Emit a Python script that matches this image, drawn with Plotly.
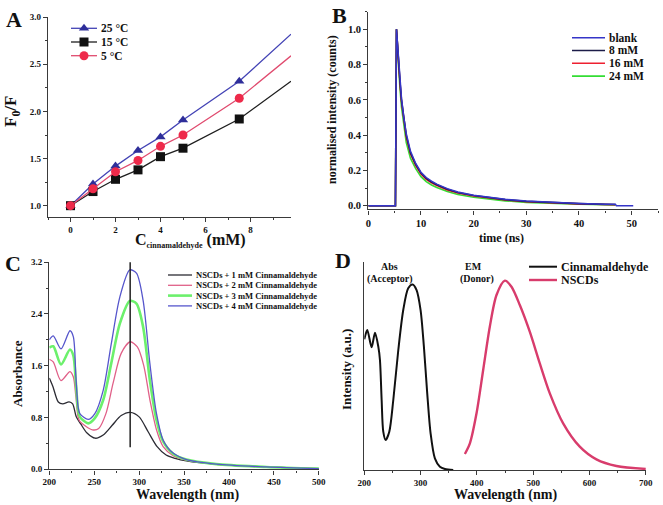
import plotly.graph_objects as go

W, H = 663, 505
SERIF = "Liberation Serif, Times New Roman, serif"

# ---------------- Panel A data ----------------
conc_mM = [0, 1, 2, 3, 4, 5, 7.5]
conc_line = [0, 1, 2, 3, 4, 5, 7.5, 9.8]
f0f_25C = [1.00, 1.23, 1.42, 1.585, 1.73, 1.91, 2.32]
f0f_15C = [1.00, 1.15, 1.28, 1.38, 1.52, 1.61, 1.92]
f0f_5C = [1.00, 1.18, 1.36, 1.48, 1.63, 1.75, 2.14]
f0f_25C_end = 2.82
f0f_15C_end = 2.32
f0f_5C_end = 2.59
temp_labels = ["25 °C", "15 °C", "5 °C"]

# ---------------- Panel B data ----------------
t_ns = [0, 5.15, 5.35, 5.6, 5.8, 6.0, 6.3, 6.7, 7.2, 8.0, 9.0, 10.0, 11.0, 12.0, 13.0,
        15.0, 17.0, 20.0, 23.0, 26.0, 30.0, 35.0, 40.0, 45.0, 46.9]
decay_blank = [0, 0, 1.0, 0.88, 0.80, 0.72, 0.61, 0.51, 0.41, 0.31, 0.24, 0.19, 0.16, 0.14, 0.123,
               0.097, 0.078, 0.060, 0.047, 0.037, 0.027, 0.019, 0.013, 0.009, 0.008]
decay_8mM = [0, 0, 1.0, 0.87, 0.79, 0.71, 0.60, 0.50, 0.40, 0.30, 0.235, 0.185, 0.155, 0.135, 0.119,
             0.094, 0.075, 0.058, 0.045, 0.035, 0.025, 0.017, 0.012, 0.008, 0.007]
decay_16mM = [0, 0, 1.0, 0.86, 0.78, 0.70, 0.59, 0.49, 0.39, 0.295, 0.228, 0.18, 0.15, 0.13, 0.115,
              0.090, 0.072, 0.055, 0.043, 0.033, 0.023, 0.016, 0.011, 0.007, 0.006]
decay_24mM = [0, 0, 1.0, 0.84, 0.75, 0.67, 0.56, 0.46, 0.36, 0.27, 0.21, 0.165, 0.137, 0.118, 0.104,
              0.081, 0.064, 0.048, 0.037, 0.028, 0.019, 0.013, 0.009, 0.006, 0.005]
t_blank_tail = [47.1, 50.3]
decay_blank_tail = [0.0, 0.0]
decay_labels = ["blank", "8 mM", "16 mM", "24 mM"]

# ---------------- Panel C data ----------------
wl_4mM = [200, 204.4, 213, 223, 226.7, 229.6, 232, 234, 243.3, 250.7, 260, 269, 278.5, 289.6, 297,
          304.4, 311.9, 319.3, 326.7, 337.8, 352.6, 386, 441.5, 500]
abs_4mM = [2.00, 2.06, 1.86, 2.14, 2.05, 1.43, 0.97, 0.86, 0.77, 0.86, 1.22, 1.94, 2.66, 3.08, 3.03,
           2.61, 1.64, 0.86, 0.45, 0.25, 0.15, 0.08, 0.036, 0.01]
wl_3mM = [200, 204.4, 213, 223, 226.7, 229.6, 232, 234, 243.3, 250.7, 260, 269, 278.5, 289.6, 297,
          304.4, 311.9, 319.3, 326.7, 337.8, 352.6, 386, 441.5, 500]
abs_3mM = [1.88, 1.90, 1.62, 1.85, 1.76, 1.33, 0.92, 0.81, 0.71, 0.79, 1.07, 1.64, 2.25, 2.60, 2.56,
           2.20, 1.38, 0.76, 0.43, 0.24, 0.15, 0.08, 0.036, 0.01]
wl_2mM = [200, 204.4, 213, 223, 226.7, 229.6, 232, 234, 248, 255, 263, 271, 280, 290, 298, 305, 312,
          319.3, 326.7, 337.8, 352.6, 386, 441.5, 500]
abs_2mM = [1.70, 1.66, 1.37, 1.51, 1.43, 1.12, 0.81, 0.74, 0.61, 0.63, 0.86, 1.33, 1.79, 1.97, 1.89,
           1.61, 1.07, 0.61, 0.35, 0.21, 0.14, 0.077, 0.036, 0.01]
wl_1mM = [200, 204, 210, 215, 222, 226, 230, 235, 242, 251, 260, 270, 280, 290, 300, 310, 320, 330,
          340, 352.6, 386, 441.5, 500]
abs_1mM = [1.41, 1.28, 1.04, 1.01, 1.04, 1.01, 0.81, 0.70, 0.56, 0.48, 0.53, 0.68, 0.83, 0.88, 0.81,
           0.58, 0.35, 0.22, 0.17, 0.13, 0.077, 0.036, 0.01]
peak_wl = [290, 290]
peak_marker = [0.34, 3.2]
uv_labels = ["NSCDs + 1 mM Cinnamaldehyde", "NSCDs + 2 mM Cinnamaldehyde",
             "NSCDs + 3 mM Cinnamaldehyde", "NSCDs + 4 mM Cinnamaldehyde"]

# ---------------- Panel D data ----------------
wl_abs = [200, 205.3, 213, 219, 224.9, 227.8, 230.8, 233.7, 237.9, 244.4, 251.5, 260.4, 269.2, 278,
          285.8, 292.9, 300, 305.9, 311.8, 317.8, 325.4, 334.3, 343.2, 358]
int_abs = [0.627, 0.672, 0.589, 0.659, 0.592, 0.528, 0.336, 0.184, 0.144, 0.184, 0.336, 0.576, 0.768,
           0.872, 0.891, 0.864, 0.768, 0.592, 0.368, 0.176, 0.056, 0.016, 0.005, 0.0]
wl_em = [378.7, 387.6, 399.4, 411.2, 423, 434.9, 449.7, 461.5, 476.3, 494, 511.8, 529.6, 553.3, 582.8,
         612.4, 648, 700]
int_em = [0.077, 0.128, 0.272, 0.48, 0.688, 0.84, 0.909, 0.88, 0.792, 0.664, 0.512, 0.368, 0.224,
          0.112, 0.051, 0.019, 0.005]
fret_labels = ["Cinnamaldehyde", "NSCDs"]

# ---------------- layout helpers ----------------
def px(x):
    return x / W

def py(y):
    return 1 - y / H

AX = "#3a3a3a"

def axis_style(domain, rng, dtick, minor_dtick, size=9, anchor=None, showticklabels=True,
               ticks="outside", fmt=None):
    d = dict(domain=domain, range=rng, showline=True, linecolor=AX, linewidth=1.4,
             ticks=ticks, ticklen=4, tickwidth=1.2, tickcolor=AX, showgrid=False, zeroline=False,
             showticklabels=showticklabels, automargin=False,
             tickfont=dict(family=SERIF, size=size, color="#111", weight="bold"),
             tickmode="linear", tick0=0, dtick=dtick, fixedrange=True)
    if fmt:
        d["tickformat"] = fmt
    if minor_dtick:
        d["minor"] = dict(ticks=ticks, ticklen=2, tickwidth=1, tickcolor=AX, dtick=minor_dtick,
                          tick0=0, showgrid=False)
    if anchor:
        d["anchor"] = anchor
    return d

fig = go.Figure()

# ---------------- Panel A traces ----------------
colA = {"25": "#4343b5", "15": "#1e1e1e", "5": "#e04a6e"}
mcolA = {"25": "#2e2e9a", "15": "#111111", "5": "#ee2a4a"}
symA = {"25": "triangle-up", "15": "square", "5": "circle"}
for key, vals, end in [("25", f0f_25C, f0f_25C_end), ("15", f0f_15C, f0f_15C_end), ("5", f0f_5C, f0f_5C_end)]:
    fig.add_trace(go.Scatter(x=conc_line, y=vals + [end], mode="lines",
                             line=dict(color=colA[key], width=1.3), xaxis="x", yaxis="y",
                             showlegend=False, hoverinfo="skip"))
    fig.add_trace(go.Scatter(x=conc_mM, y=vals, mode="markers",
                             marker=dict(symbol=symA[key], size=9, color=mcolA[key]),
                             xaxis="x", yaxis="y", showlegend=False))

# ---------------- Panel B traces ----------------
colB = ["#3535c8", "#1c1c48", "#ee2030", "#33dd33"]
for vals, c in [(decay_24mM, colB[3]), (decay_16mM, colB[2]), (decay_8mM, colB[1])]:
    fig.add_trace(go.Scatter(x=t_ns, y=vals, mode="lines", line=dict(color=c, width=1.6),
                             xaxis="x2", yaxis="y2", showlegend=False))
fig.add_trace(go.Scatter(x=t_ns + t_blank_tail, y=decay_blank + decay_blank_tail, mode="lines",
                         line=dict(color=colB[0], width=1.5), xaxis="x2", yaxis="y2", showlegend=False))

# ---------------- Panel C traces ----------------
colC = ["#2c2c34", "#e06088", "#6cf06c", "#5656cc"]
widC = [1.3, 1.3, 2.6, 1.3]
for wl, vals, c, w in [(wl_1mM, abs_1mM, colC[0], widC[0]), (wl_2mM, abs_2mM, colC[1], widC[1]),
                       (wl_3mM, abs_3mM, colC[2], widC[2]), (wl_4mM, abs_4mM, colC[3], widC[3])]:
    fig.add_trace(go.Scatter(x=wl, y=vals, mode="lines", line=dict(color=c, width=w, shape="spline", smoothing=0.8),
                             xaxis="x3", yaxis="y3", showlegend=False))
fig.add_trace(go.Scatter(x=peak_wl, y=peak_marker, mode="lines", line=dict(color="#222", width=1.5),
                         xaxis="x3", yaxis="y3", showlegend=False, hoverinfo="skip"))

# ---------------- Panel D traces ----------------
colD = ["#111111", "#d83c6c"]
fig.add_trace(go.Scatter(x=wl_abs, y=int_abs, mode="lines", line=dict(color=colD[0], width=2, shape="spline", smoothing=0.8),
                         xaxis="x4", yaxis="y4", showlegend=False))
fig.add_trace(go.Scatter(x=wl_em, y=int_em, mode="lines", line=dict(color=colD[1], width=2.4, shape="spline", smoothing=0.8),
                         xaxis="x4", yaxis="y4", showlegend=False))

# ---------------- hand-drawn legends (overlay pixel axes) ----------------
annotations = []

def legend_rows(x0, x1, y0, dy, labels, colors, widths, size, symbols=None, mcolors=None):
    for i, (lab, c, w) in enumerate(zip(labels, colors, widths)):
        yy = y0 + i * dy
        fig.add_trace(go.Scatter(x=[x0, x1], y=[yy, yy], mode="lines", line=dict(color=c, width=w),
                                 xaxis="x5", yaxis="y5", showlegend=False, hoverinfo="skip"))
        if symbols:
            fig.add_trace(go.Scatter(x=[(x0 + x1) / 2], y=[yy], mode="markers",
                                     marker=dict(symbol=symbols[i], size=9, color=mcolors[i]),
                                     xaxis="x5", yaxis="y5", showlegend=False, hoverinfo="skip"))
        annotations.append(dict(x=px(x1 + 2), y=py(yy), xref="paper", yref="paper", text=lab,
                                showarrow=False, xanchor="left", yanchor="middle",
                                font=dict(family=SERIF, size=size, color="#111", weight="bold")))

legend_rows(71, 97, 28.3, 13.7, temp_labels, [colA["25"], colA["15"], colA["5"]], [1.3] * 3, 11.5,
            symbols=[symA["25"], symA["15"], symA["5"]], mcolors=[mcolA["25"], mcolA["15"], mcolA["5"]])
legend_rows(572, 605, 37.7, 12.8, decay_labels, colB, [1.6] * 4, 11.5)
legend_rows(168, 192, 275, 10.3, uv_labels, colC, widC, 8.5)
legend_rows(529, 557, 266.7, 13.3, fret_labels, colD, [2, 2.4], 12)

def text(x, y, s, size, angle=0, anchor="center"):
    annotations.append(dict(x=px(x), y=py(y), xref="paper", yref="paper", text=s, showarrow=False,
                            textangle=angle, xanchor=anchor, yanchor="middle",
                            font=dict(family=SERIF, size=size, color="#111", weight="bold")))

# panel letters
text(14, 19, "A", 22)
text(340, 15, "B", 22)
text(13, 263, "C", 22)
text(343, 260, "D", 22)

# axis titles
text(12, 112, "F<sub>0</sub>/F", 17, angle=-90)
text(190, 240, "C<sub><span style='font-size:8px'>cinnamaldehyde</span></sub> (mM)", 16)
text(332, 110, "normalised intensity (counts)", 12, angle=-90)
text(501, 238, "time (ns)", 12)
text(17, 374, "Absorbance", 13, angle=-90)
text(187, 495, "Wavelength (nm)", 14)
text(346, 370, "Intensity (a.u.)", 13, angle=-90)
text(505, 495, "Wavelength (nm)", 14)

# panel D labels
text(389, 266, "Abs", 10)
text(390, 278.5, "(Acceptor)", 10)
text(473, 266, "EM", 10)
text(477, 279, "(Donor)", 10)

layout_axes = dict(
    xaxis=axis_style([px(48), px(291)], [-1, 9.8], 2, 1, anchor="y"),
    yaxis=axis_style([py(217), py(17)], [0.88, 3.002], 0.5, 0.25, anchor="x", fmt=".1f"),
    xaxis2=axis_style([px(368.3), px(658)], [0, 55], 10, 5, size=10.5, anchor="y2"),
    yaxis2=axis_style([py(209.3), py(11.7)], [-0.02, 1.1], 0.2, 0.1, size=10.5, anchor="x2", fmt=".1f"),
    xaxis3=axis_style([px(49.3), px(319.3)], [200, 500.5], 50, 25, anchor="y3"),
    yaxis3=axis_style([py(469.3), py(262)], [0, 3.202], 0.8, 0.4, anchor="x3", fmt=".1f"),
    xaxis4=axis_style([px(364.3), px(646)], [200, 700.5], 100, 50, anchor="y4"),
    yaxis4=axis_style([py(470), py(261.7)], [0, 1], 0.2, None, anchor="x4", showticklabels=False, ticks=""),
    xaxis5=dict(domain=[0, 1], range=[0, W], visible=False, fixedrange=True, anchor="y5", automargin=False),
    yaxis5=dict(domain=[0, 1], range=[H, 0], visible=False, fixedrange=True, anchor="x5", automargin=False),
)

fig.update_layout(
    template="none",
    width=W, height=H, margin=dict(l=0, r=0, t=0, b=0, pad=0, autoexpand=False),
    paper_bgcolor="white", plot_bgcolor="rgba(0,0,0,0)",
    showlegend=False, annotations=annotations, **layout_axes,
)

fig.write_html("out.html", config={"displayModeBar": False},
               post_script="document.body.style.margin='0';document.body.style.padding='0';")
